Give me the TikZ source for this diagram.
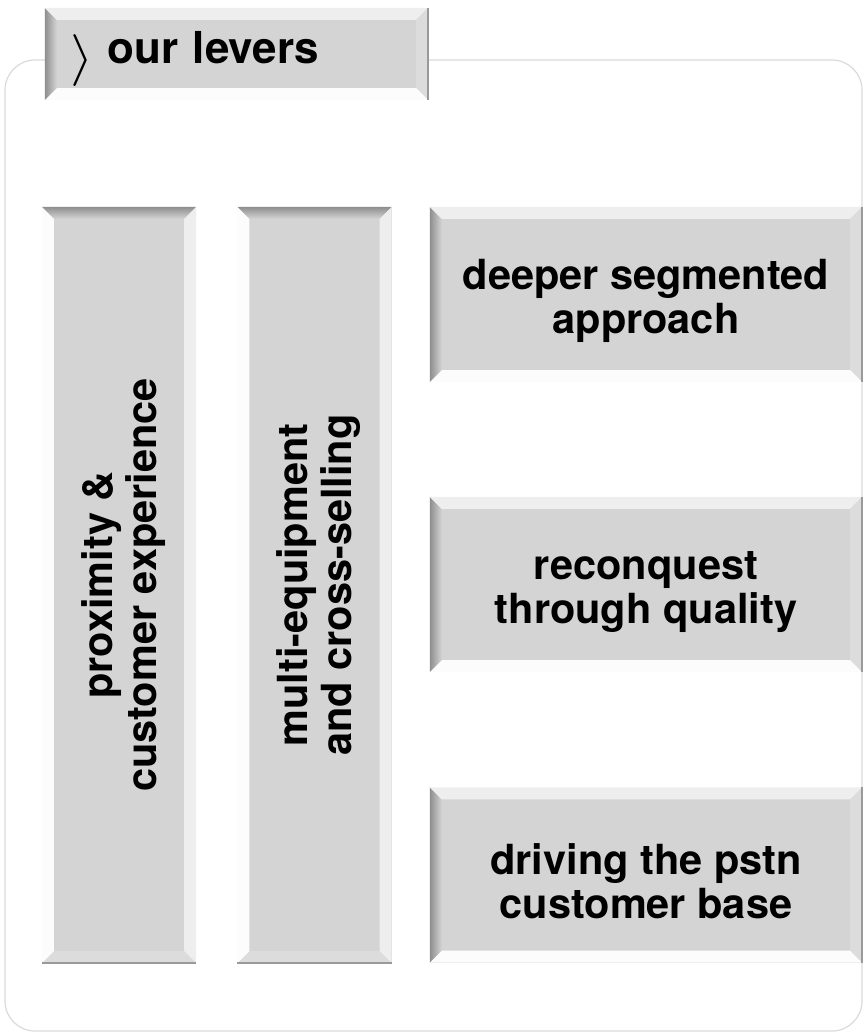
\documentclass[tikz,border=0pt]{standalone}
\usepackage{fontspec}
\setmainfont{TeX Gyre Heros}
\usetikzlibrary{calc}

\definecolor{levface}{HTML}{D4D4D4}
\definecolor{levdark}{HTML}{8E8E8E}
\definecolor{levlight}{HTML}{EEEEEE}
\definecolor{levside}{HTML}{DCDCDC}
\definecolor{levedge}{HTML}{9A9A9A}
\definecolor{frameline}{HTML}{DADADA}

\newcommand{\bev}{12pt}
% corners #1..#4 clockwise, dark side from #4 to #1, #5 = shading angle
\newcommand{\levbevel}[5]{%
  \coordinate (b1) at ($(#1)!\bev!(#2)+(#1)!\bev!(#4)-(#1)$);
  \coordinate (b2) at ($(#2)!\bev!(#3)+(#2)!\bev!(#1)-(#2)$);
  \coordinate (b3) at ($(#3)!\bev!(#4)+(#3)!\bev!(#2)-(#3)$);
  \coordinate (b4) at ($(#4)!\bev!(#1)+(#4)!\bev!(#3)-(#4)$);
  \shade[top color=levdark, bottom color=levface, shading angle=#5] (#4) -- (#1) -- (b1) -- (b4) -- cycle;
  \fill[levlight] (#1) -- (#2) -- (b2) -- (b1) -- cycle;
  \fill[levside] (#2) -- (#3) -- (b3) -- (b2) -- cycle;
  \fill[white!92!levface] (#3) -- (#4) -- (b4) -- (b3) -- cycle;
  \draw[levedge, line width=1.5pt] (#2) -- (#3);
}

\begin{document}
\begin{tikzpicture}[x=1pt, y=-1pt,
    lever/.style={rectangle, fill=levface, inner sep=0pt, align=center, font=\fontsize{41.5}{44}\selectfont\bfseries},
    hlever/.style={lever, minimum width=432pt, minimum height=175pt, text height=88pt},
    vlever/.style={lever, rotate=90, minimum width=756pt, minimum height=154pt, text height=84pt}]
    \useasboundingbox (0,0) rectangle (865,1034);

    % frame behind everything
    \draw[frameline, line width=1.2pt, rounded corners=30pt] (5,60) rectangle (862,1031);

    % heading tab
    \node[lever, minimum width=383pt, minimum height=92pt, text width=333pt, inner xsep=25pt, align=left, text height=31pt, text depth=13pt, font=\fontsize{44}{44}\selectfont\bfseries] (title) at (236.5,54) {\raisebox{-0.45ex}{\scalebox{2.9}[2.5]{\fontsize{20}{20}\selectfont$\rangle$}}\hspace{14pt}our levers};

    % vertical levers
    \node[vlever] (prox) at (119,585) {proximity \&\\customer experience};
    \node[vlever] (multi) at (314.5,585) {multi-equipment\\and cross-selling};

    % right-hand levers
    \node[hlever] (seg) at (646,294.5) {deeper segmented\\approach};
    \node[hlever] (recon) at (646,584.5) {reconquest\\through quality};
    \node[hlever] (pstn) at (646,875) {driving the pstn\\customer base};

    % bevels
    \foreach \n in {title,seg,recon,pstn}
      \levbevel{\n.north west}{\n.north east}{\n.south east}{\n.south west}{90};
    \foreach \n in {prox,multi}
      \levbevel{\n.south east}{\n.south west}{\n.north west}{\n.north east}{0};
\end{tikzpicture}
\end{document}
